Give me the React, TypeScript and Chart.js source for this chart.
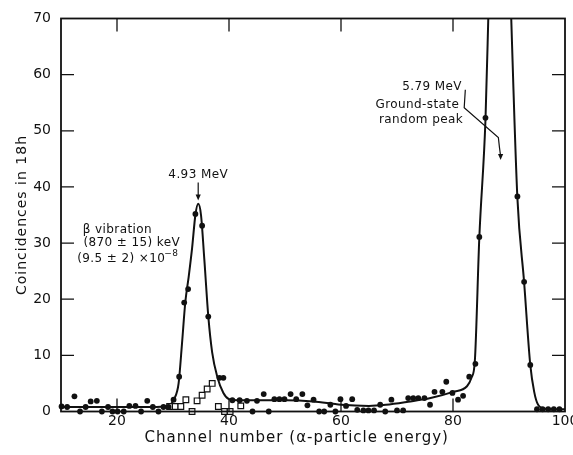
import React, { useEffect, useRef } from 'react';
import { Chart, registerables } from 'chart.js';

Chart.register(...registerables);

const FONT = '"DejaVu Sans", sans-serif';
const INK = '#111111';

const xTickValues = [20, 40, 60, 80, 100];
const yTickValues = [0, 10, 20, 30, 40, 50, 60, 70];

// Filled circles: coincidences per channel
const dotX = [10.1, 11.1, 12.4, 13.4, 14.4, 15.3, 16.4, 17.3, 18.4, 19.2, 20.1, 21.2, 22.2, 23.3, 24.3, 25.4, 26.4, 27.4, 28.3, 29.2,
  30.1, 31.1, 32.0, 32.7, 34.0, 35.2, 36.3, 38.3, 39.0, 40.6, 41.9, 43.2, 44.2, 45.0, 46.2, 47.1, 48.1, 49.0, 49.9, 51.0,
  52.0, 53.1, 54.0, 55.1, 56.1, 57.0, 58.1, 59.0, 59.9, 60.9, 62.0, 62.9, 64.0, 64.9, 65.9, 67.0, 67.9, 69.0, 70.0, 71.1,
  72.0, 72.9, 73.8, 74.9, 75.9, 76.7, 78.1, 78.8, 79.9, 80.9, 81.8, 82.9, 84.0, 84.7, 85.8, 91.5, 92.7, 93.8, 95.0, 96.0,
  97.0, 98.0, 99.0];
const dotY = [0.9, 0.8, 2.7, 0, 0.8, 1.8, 1.9, 0, 0.8, 0, 0, 0, 1.0, 1.0, 0, 1.9, 0.8, 0, 0.8, 0.8,
  2.1, 6.2, 19.4, 21.8, 35.2, 33.1, 16.9, 6.0, 6.0, 2.0, 2.0, 1.9, 0, 1.9, 3.1, 0, 2.2, 2.2, 2.2, 3.1,
  2.2, 3.1, 1.1, 2.1, 0, 0, 1.2, 0, 2.2, 1.0, 2.2, 0.3, 0.2, 0.2, 0.2, 1.2, 0, 2.1, 0.2, 0.2,
  2.4, 2.4, 2.4, 2.4, 1.2, 3.5, 3.5, 5.3, 3.3, 2.1, 2.8, 6.2, 8.5, 31.1, 52.3, 38.3, 23.1, 8.3, 0.4, 0.4,
  0.4, 0.4, 0.4];

// Open squares
const squareX = [29.4, 30.4, 31.4, 32.3, 33.4, 34.3, 35.2, 36.1, 37.0, 38.1, 39.2, 40.2, 42.1];
const squareY = [0.9, 0.9, 0.9, 2.1, 0, 1.9, 2.9, 4.0, 5.0, 0.9, 0, 0, 1.0];

// Drawn smooth curve
const curveX = [10, 14, 20, 25, 28.5, 29.5, 30.2, 31.0, 31.6, 32.2, 32.8, 33.4, 34.0, 34.5, 35.0, 35.6, 36.3, 37.0, 37.9, 39.0,
  40.0, 41.5, 45, 50, 55, 60, 65, 68, 72, 76, 80, 82.5, 83.3, 83.9, 84.7, 85.8, 86.3, 86.8, 88, 89.8,
  90.4, 91.5, 92.7, 93.8, 94.5, 95.2, 96.5, 100];
const curveY = [0.8, 0.8, 0.8, 0.8, 0.9, 1.2, 2.2, 5.0, 12, 19.5, 24, 29, 35, 37, 35, 27, 17, 10.5, 6.2, 3.3,
  2.2, 2.0, 2.0, 2.0, 1.8, 1.2, 1.0, 1.2, 1.75, 2.4, 3.5, 4.5, 6.0, 9, 31, 52, 70, 90, 100, 90,
  70, 38, 23, 8.3, 3.5, 1.2, 0.5, 0.4];

const TICK = 13;

function arrowHead(ctx: CanvasRenderingContext2D, x: number, y: number) {
  ctx.beginPath();
  ctx.moveTo(x, y);
  ctx.lineTo(x - 2.6, y - 6);
  ctx.lineTo(x + 2.6, y - 6);
  ctx.closePath();
  ctx.fill();
}

const framePlugin = {
  id: 'frameAndNotes',
  afterDraw(chart: any) {
    const { ctx, chartArea: a, scales } = chart;
    const xs = scales.x;
    const ys = scales.y;
    const px = (v: number) => xs.getPixelForValue(v);
    const py = (v: number) => ys.getPixelForValue(v);
    ctx.save();
    ctx.strokeStyle = INK;
    ctx.fillStyle = INK;
    ctx.lineWidth = 1.8;
    ctx.strokeRect(a.left, a.top, a.right - a.left, a.bottom - a.top);
    ctx.lineWidth = 1.3;
    ctx.beginPath();
    for (const v of xTickValues) {
      if (v >= 100) continue;
      const x = px(v);
      ctx.moveTo(x, a.bottom);
      ctx.lineTo(x, a.bottom - TICK);
      ctx.moveTo(x, a.top);
      ctx.lineTo(x, a.top + TICK);
    }
    for (const v of yTickValues) {
      if (v <= 0 || v >= 70) continue;
      const y = py(v);
      ctx.moveTo(a.left, y);
      ctx.lineTo(a.left + TICK, y);
      ctx.moveTo(a.right, y);
      ctx.lineTo(a.right - TICK, y);
    }
    ctx.stroke();

    // axis titles
    (ctx as any).letterSpacing = '1px';
    ctx.font = `15px ${FONT}`;
    ctx.textAlign = 'center';
    ctx.textBaseline = 'middle';
    ctx.fillText('Channel number (\u03b1-particle energy)', px(52.1), a.bottom + 27);
    ctx.save();
    ctx.translate(22, (a.top + a.bottom) / 2);
    ctx.rotate(-Math.PI / 2);
    ctx.font = `14px ${FONT}`;
    ctx.fillText('Coincidences in 18h', 0, 0);
    ctx.restore();

    // annotations
    (ctx as any).letterSpacing = '0.4px';
    ctx.font = `12px ${FONT}`;
    ctx.textAlign = 'center';
    ctx.fillText('4.93 MeV', px(34.5), py(42.2));
    ctx.lineWidth = 1.2;
    ctx.beginPath();
    ctx.moveTo(px(34.5), py(40.8));
    ctx.lineTo(px(34.5), py(37.6) - 4);
    ctx.stroke();
    arrowHead(ctx, px(34.5), py(37.6));

    ctx.textAlign = 'left';
    ctx.fillText('\u03b2 vibration', px(13.9), py(32.4));
    ctx.fillText('(870 \u00b1 15) keV', px(14.0), py(30.1));
    const t3 = '(9.5 \u00b1 2) \u00d710';
    ctx.fillText(t3, px(12.9), py(27.2));
    const w3 = ctx.measureText(t3).width;
    ctx.font = `9px ${FONT}`;
    ctx.fillText('\u22128', px(12.9) + w3 - 1, py(27.2) - 5);

    ctx.font = `12px ${FONT}`;
    ctx.textAlign = 'right';
    ctx.fillText('5.79 MeV', px(81.6), py(57.9));
    ctx.fillText('Ground-state', px(81.1), py(54.7));
    ctx.fillText('random peak', px(81.8), py(51.9));
    ctx.lineWidth = 1.2;
    ctx.beginPath();
    ctx.moveTo(px(82.2), py(57.3));
    ctx.lineTo(px(82.0), py(54.1));
    ctx.lineTo(px(88.1), py(48.8));
    ctx.lineTo(px(88.3), py(47.0));
    ctx.lineTo(px(88.5), py(44.8) - 4);
    ctx.stroke();
    arrowHead(ctx, px(88.5), py(44.8));
    ctx.restore();
  },
};

export default function App() {
  const ref = useRef<HTMLCanvasElement | null>(null);
  useEffect(() => {
    if (!ref.current) return;
    const chart = new Chart(ref.current, {
      type: 'scatter',
      data: {
        datasets: [
          {
            type: 'line',
            label: 'curve',
            data: curveX.map((x, i) => ({ x, y: curveY[i] })),
            borderColor: INK,
            borderWidth: 2,
            pointRadius: 0,
            fill: false,
            cubicInterpolationMode: 'monotone',
            order: 3,
          } as any,
          {
            label: 'coincidences',
            data: dotX.map((x, i) => ({ x, y: dotY[i] })),
            backgroundColor: INK,
            borderColor: INK,
            borderWidth: 0,
            pointRadius: 2.9,
            clip: false,
            order: 1,
          } as any,
          {
            label: 'squares',
            data: squareX.map((x, i) => ({ x, y: squareY[i] })),
            pointStyle: 'rect',
            backgroundColor: '#ffffff',
            borderColor: INK,
            borderWidth: 1.2,
            pointRadius: 4,
            clip: false,
            order: 2,
          } as any,
        ],
      },
      options: {
        responsive: false,
        animation: false,
        devicePixelRatio: 1,
        layout: { padding: { left: 0, right: 8, top: 18.5, bottom: 0 } },
        plugins: { legend: { display: false }, tooltip: { enabled: false } },
        scales: {
          x: {
            type: 'linear',
            min: 10,
            max: 100,
            grid: { display: false, drawTicks: false },
            border: { display: false },
            afterBuildTicks: (s: any) => { s.ticks = xTickValues.map((v) => ({ value: v })); },
            afterFit: (s: any) => { s.height = 43.5; s.paddingLeft = 0; s.paddingRight = 0; },
            ticks: { color: INK, font: { family: FONT, size: 14 }, padding: 1, maxRotation: 0, autoSkip: false },
          },
          y: {
            type: 'linear',
            min: 0,
            max: 70,
            grid: { display: false, drawTicks: false },
            border: { display: false },
            afterBuildTicks: (s: any) => { s.ticks = yTickValues.map((v) => ({ value: v })); },
            afterFit: (s: any) => { s.width = 61; s.paddingTop = 0; s.paddingBottom = 0; },
            ticks: { color: INK, font: { family: FONT, size: 14 }, padding: 10, autoSkip: false },
          },
        },
      },
      plugins: [framePlugin],
    } as any);
    return () => chart.destroy();
  }, []);
  return (
    <div style={{ position: 'absolute', left: 0, top: 0, width: 573, height: 455, background: '#fff' }}>
      <canvas ref={ref} width={573} height={455} style={{ display: 'block', width: 573, height: 455 }} />
    </div>
  );
}
